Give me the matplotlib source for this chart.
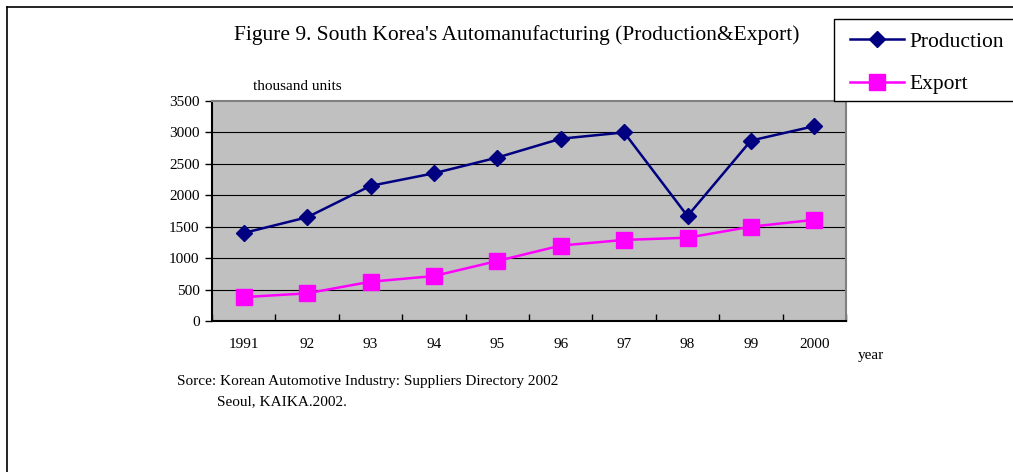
import matplotlib
matplotlib.use("Agg")
import matplotlib.pyplot as plt
from matplotlib.lines import Line2D
from matplotlib.patches import Rectangle
import numpy as np

years = ["1991", "92", "93", "94", "95", "96", "97", "98", "99", "2000"]
production = [1400, 1650, 2150, 2350, 2600, 2900, 3000, 1670, 2870, 3100]
export = [380, 440, 625, 715, 955, 1200, 1290, 1325, 1500, 1610]
yticks = [0, 500, 1000, 1500, 2000, 2500, 3000, 3500]

plt.rcParams['font.family'] = ['Liberation Serif', 'DejaVu Serif']

W, H = 1013, 472
fig = plt.figure(figsize=(W / 100, H / 100), dpi=100)
ax = fig.add_axes([212 / W, (H - 321) / H, 634 / W, 220 / H])
ax.set_facecolor('#C0C0C0')

x = np.arange(len(years))
ax.set_xlim(-0.5, len(years) - 0.5)
ax.set_ylim(0, 3500)
ax.set_yticks(yticks)
ax.set_yticklabels([str(v) for v in yticks], fontsize=11)
for v in yticks[1:-1]:
    ax.axhline(v, color='black', lw=0.8, zorder=1)

ax.set_xticks(np.arange(len(years) + 1) - 0.5)
ax.set_xticklabels([])
ax.set_xticks(x, minor=True)
ax.set_xticklabels(years, minor=True, fontsize=11)
ax.tick_params(axis='x', which='major', direction='in', length=5, width=1, color='black')
ax.tick_params(axis='x', which='minor', length=0, pad=12)
ax.tick_params(axis='y', direction='out', length=5, width=1, pad=4)

for s in ['left', 'bottom']:
    ax.spines[s].set_color('black')
    ax.spines[s].set_linewidth(1.5)
for s in ['top', 'right']:
    ax.spines[s].set_color('#808080')
    ax.spines[s].set_linewidth(1.5)

lp, = ax.plot(x, production, color='#000080', lw=1.8, marker='D', markersize=8.5,
              markerfacecolor='#000080', markeredgecolor='#000080', zorder=3, clip_on=False)
le, = ax.plot(x, export, color='#FF00FF', lw=1.8, marker='s', markersize=11,
              markerfacecolor='#FF00FF', markeredgecolor='#FF00FF', zorder=3, clip_on=False)

fig.text(517 / W, 1 - 35 / H, "Figure 9. South Korea's Automanufacturing (Production&Export)",
         ha='center', va='center', fontsize=15.5)
fig.text(253 / W, 1 - 86 / H, "thousand units", ha='left', va='center', fontsize=11)
fig.text(858 / W, 1 - 356 / H, "year", ha='left', va='center', fontsize=11)
fig.text(177 / W, 1 - 382 / H, "Sorce: Korean Automotive Industry: Suppliers Directory 2002",
         ha='left', va='center', fontsize=11)
fig.text(217 / W, 1 - 402 / H, "Seoul, KAIKA.2002.", ha='left', va='center', fontsize=11)

# legend box (extends past the right edge, as in the reference)
fig.add_artist(Rectangle((834 / W, 1 - 101 / H), 200 / W, 82 / H, transform=fig.transFigure,
                         facecolor='white', edgecolor='black', lw=1.0, zorder=4))
leg = fig.legend([lp, le], ["Production", "Export"], loc='upper left',
                 bbox_to_anchor=(844 / W, 1 - 25 / H), fontsize=15.5, frameon=False,
                 handlelength=2.5, handletextpad=0.25,
                 labelspacing=1.05, borderpad=0.3, borderaxespad=0)
leg.set_zorder(5)

fig.add_artist(Line2D([7 / W, 7 / W], [0, 1 - 7 / H], transform=fig.transFigure, color='black', lw=1.2))
fig.add_artist(Line2D([7 / W, 1], [1 - 7 / H, 1 - 7 / H], transform=fig.transFigure, color='black', lw=1.2))

fig.savefig("out.png", dpi=100)
